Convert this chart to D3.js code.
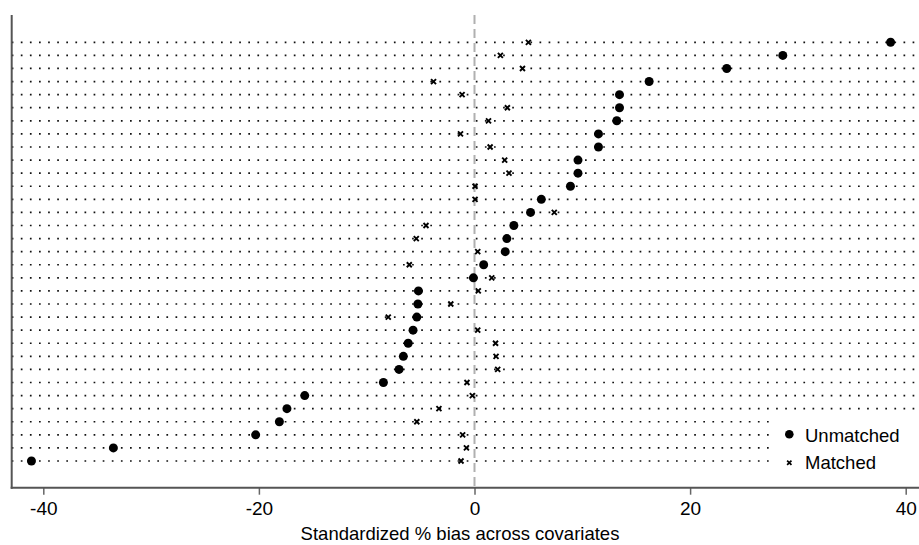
<!DOCTYPE html>
<html>
<head>
<meta charset="utf-8">
<script src="https://cdn.jsdelivr.net/npm/d3@7"></script>
<style>
  body { margin: 0; background: #fff; }
  svg { font-family: "Liberation Sans", Arial, sans-serif; }
</style>
</head>
<body>
<svg id="chart" width="919" height="545"></svg>
<script>
// covariates, sorted by unmatched bias (top to bottom)
const covariates = d3.range(1, 34).map(i => "x" + i);
const unmatched = [38.6, 28.6, 23.4, 16.2, 13.45, 13.45, 13.2, 11.5, 11.5, 9.6, 9.6, 8.9,
  6.2, 5.2, 3.65, 3.0, 2.85, 0.85, -0.1, -5.2, -5.25, -5.35, -5.7, -6.15, -6.6, -7.0,
  -8.45, -15.75, -17.4, -18.1, -20.3, -33.5, -41.1];
const matched = [5.0, 2.4, 4.45, -3.8, -1.15, 3.05, 1.3, -1.3, 1.45, 2.8, 3.2, 0.05,
  0.05, 7.4, -4.5, -5.4, 0.3, -6.05, 1.6, 0.35, -2.2, -8.0, 0.3, 1.95, 2.0, 2.15,
  -0.7, -0.2, -3.3, -5.35, -1.1, -0.75, -1.25];
const xTicks = [-40, -20, 0, 20, 40];
const legendLabels = ["Unmatched", "Matched"];

const svg = d3.select("#chart");
const W = 919, H = 545;
const plotLeft = 11.7, plotBottom = 487.7, plotTop = 15;

const x = d3.scaleLinear().domain([-40, 40]).range([43.3, 905.7]);
const y = d3.scalePoint().domain(covariates).range([42.3, 461]);

// dotted row lines
svg.append("g").selectAll("line")
  .data(covariates)
  .enter()
  .append("line")
  .attr("x1", plotLeft)
  .attr("x2", W)
  .attr("y1", d => y(d))
  .attr("y2", d => y(d))
  .attr("stroke", "#111")
  .attr("stroke-width", 1.7)
  .attr("stroke-dasharray", "1.7,7.4");

// zero reference line
svg.append("line")
  .attr("x1", x(0)).attr("x2", x(0))
  .attr("y1", plotTop).attr("y2", plotBottom)
  .attr("stroke", "#b0b0b0")
  .attr("stroke-width", 2)
  .attr("stroke-dasharray", "9,5");

// unmatched points
svg.append("g").selectAll("circle")
  .data(unmatched)
  .enter()
  .append("circle")
  .attr("cx", d => x(d))
  .attr("cy", (d, i) => y(covariates[i]))
  .attr("r", 4.5)
  .attr("fill", "#000");

// matched points (small x)
const cross = d3.symbol().type(d3.symbolX).size(18);
svg.append("g").selectAll("path")
  .data(matched)
  .enter()
  .append("path")
  .attr("d", cross)
  .attr("transform", (d, i) => `translate(${x(d)},${y(covariates[i])})`)
  .attr("fill", "none")
  .attr("stroke", "#000")
  .attr("stroke-width", 1.9);

// legend box (covers the dotted lines)
const lg = svg.append("g");
lg.append("rect")
  .attr("x", 772).attr("y", 415)
  .attr("width", W - 772).attr("height", plotBottom - 415 - 1)
  .attr("fill", "#fff");
lg.append("circle")
  .attr("cx", 789.3).attr("cy", 434.3).attr("r", 4.3).attr("fill", "#000");
lg.append("path")
  .attr("d", d3.symbol().type(d3.symbolX).size(14))
  .attr("transform", "translate(789.3,462.7)")
  .attr("fill", "none").attr("stroke", "#000").attr("stroke-width", 1.7);
lg.selectAll("text")
  .data(legendLabels)
  .enter()
  .append("text")
  .attr("x", 805)
  .attr("y", (d, i) => [441.5, 469.3][i])
  .attr("font-size", 18.5)
  .attr("fill", "#000")
  .text(d => d);

// axes
svg.append("line")
  .attr("x1", plotLeft).attr("x2", plotLeft)
  .attr("y1", plotTop).attr("y2", plotBottom + 1)
  .attr("stroke", "#555").attr("stroke-width", 2);

const xAxis = svg.append("g")
  .attr("transform", `translate(0,${plotBottom})`)
  .call(d3.axisBottom(x).tickValues(xTicks).tickSize(7).tickPadding(7).tickFormat(d3.format("d")));
xAxis.select(".domain").remove();
xAxis.selectAll(".tick line").attr("stroke", "#666").attr("stroke-width", 1.5);
xAxis.selectAll(".tick text")
  .attr("font-size", 19)
  .attr("font-family", "Liberation Sans, Arial, sans-serif")
  .attr("fill", "#000")
  .text(d => d < 0 ? "-" + Math.abs(d) : d);
svg.append("line")
  .attr("x1", plotLeft - 1).attr("x2", W)
  .attr("y1", plotBottom).attr("y2", plotBottom)
  .attr("stroke", "#555").attr("stroke-width", 2);

svg.append("text")
  .attr("x", 460)
  .attr("y", 540)
  .attr("text-anchor", "middle")
  .attr("font-size", 18.5)
  .attr("fill", "#000")
  .text("Standardized % bias across covariates");
</script>
</body>
</html>
